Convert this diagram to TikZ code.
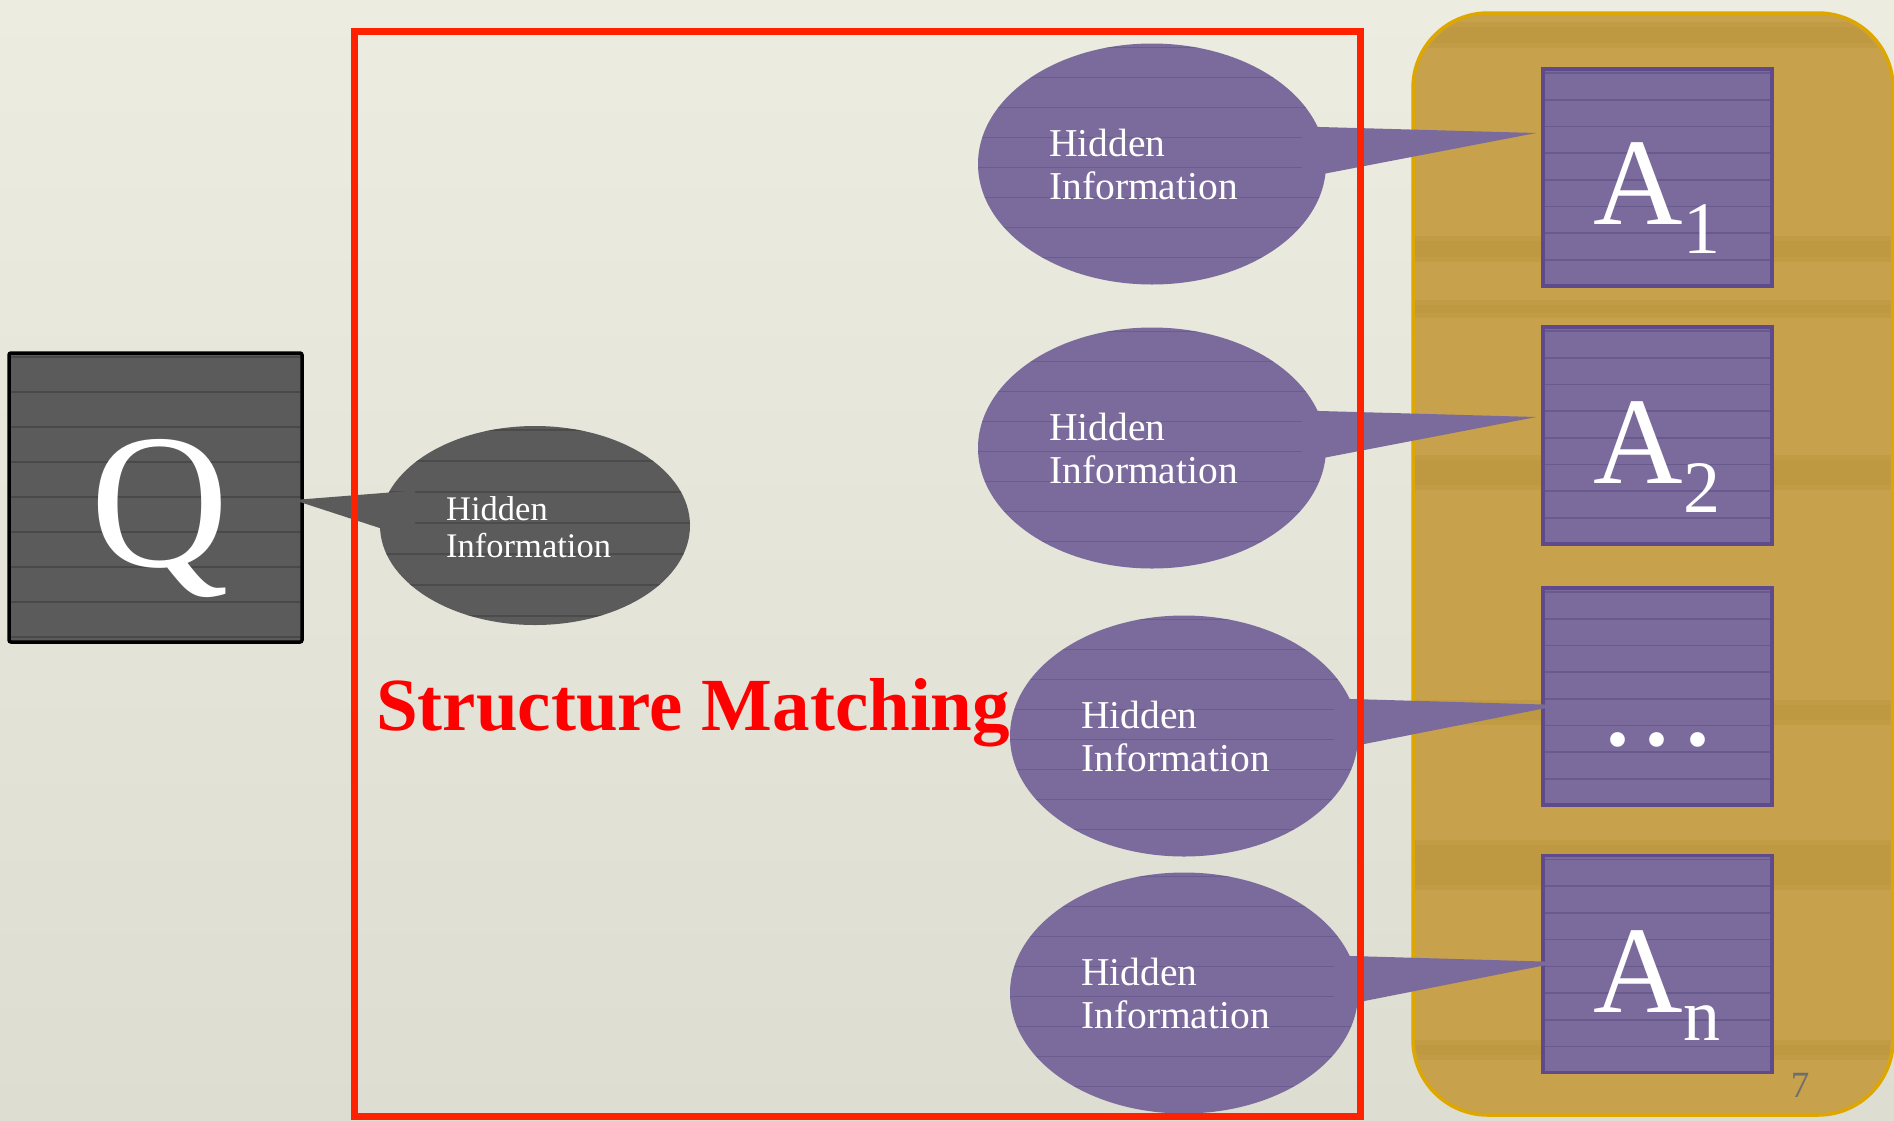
\documentclass[tikz,border=0pt]{standalone}
\usepackage{fontspec}
\setmainfont{Liberation Serif}
\usetikzlibrary{shapes.geometric,calc}
\definecolor{bgtop}{HTML}{ECECE0}
\definecolor{bgbot}{HTML}{DDDDD1}
\definecolor{redline}{HTML}{FF2200}
\definecolor{goldfill}{HTML}{C7A14B}
\definecolor{golddraw}{HTML}{DDA700}
\definecolor{goldband}{HTML}{A98424}
\definecolor{purfill}{HTML}{7B6B9D}
\definecolor{purdraw}{HTML}{5F4B8B}
\definecolor{purstripe}{HTML}{54467A}
\definecolor{grayfill}{HTML}{5B5B5B}
\definecolor{graystripe}{HTML}{393939}
\definecolor{pagenum}{HTML}{6E6E6E}
\begin{document}
\begin{tikzpicture}[x=1pt,y=-1pt,
  stripes/.style n args={3}{path picture={%
    \foreach \k in {0,...,#1}{%
      \draw[#3] ([yshift={-(\k*#2+4)*1pt}]path picture bounding box.north west) -- ([yshift={-(\k*#2+4)*1pt}]path picture bounding box.north east);}}},
  goldbox/.style={draw=golddraw, line width=3.5pt, fill=goldfill, rounded corners=75pt, minimum width=480pt, minimum height=1102pt, inner sep=0pt},
  abox/.style={draw=purdraw, line width=3.5pt, fill=purfill, minimum width=229pt, minimum height=217pt, inner sep=0pt, stripes={8}{26.7}{purstripe, line width=1.6pt, opacity=0.45}},
  qbox/.style={draw=black, line width=3.5pt, fill=grayfill, rounded corners=2pt, minimum width=293pt, minimum height=289pt, inner sep=0pt, stripes={8}{35}{graystripe, line width=2pt, opacity=0.5}},
  hid/.style={ellipse, fill=purfill, minimum width=348pt, minimum height=241pt, inner sep=0pt, stripes={8}{30}{purstripe, line width=1.6pt, opacity=0.4}},
  qhid/.style={ellipse, fill=grayfill, minimum width=310pt, minimum height=199pt, inner sep=0pt, stripes={7}{31}{graystripe, line width=1.8pt, opacity=0.45}},
  hidtext/.style={text=white, align=left, inner sep=0pt, anchor=west, font=\fontsize{39.5}{43}\selectfont},
  qhidtext/.style={text=white, align=left, inner sep=0pt, anchor=west, font=\fontsize{34.5}{37}\selectfont},
  bigtext/.style={text=white, inner sep=0pt, anchor=base west, font=\fontsize{124}{124}\selectfont},
  redframe/.style={draw=redline, line width=7pt, minimum width=1006pt, minimum height=1085pt, inner sep=0pt},
  titletext/.style={text=red, inner sep=0pt, anchor=base west, font=\fontsize{75}{80}\selectfont\bfseries}
]
\useasboundingbox (0,0) rectangle (1894,1120);
\fill[top color=bgtop, bottom color=bgbot] (0,0) rectangle (1894,1120);

% gold panel
\node[goldbox] (gold) at (1653,564) {};
\begin{scope}
  \clip[rounded corners=75pt] (1415,15) rectangle (1891,1113);
  \foreach \ya/\yb in {22/48, 236/262, 300/318, 455/490, 700/725, 840/890, 1040/1060}{
    \fill[goldband, opacity=0.15] (1415,\ya) rectangle (1891,\yb);
    \fill[goldband, opacity=0.1] (1415,\ya+5) rectangle (1891,\yb-5);
  }
\end{scope}

% answer boxes
\node[abox] (a1) at (1657.5,177.5) {};
\node[abox] (a2) at (1657.5,435.5) {};
\node[abox] (a3) at (1657.5,696.5) {};
\node[abox] (a4) at (1657.5,964) {};

% question box
\node[qbox] (q) at (155.5,497.5) {};

% hidden information ellipses
\node[qhid] (e0) at (535,525.5) {};
\node[hid] (e1) at (1152,164) {};
\node[hid] (e2) at (1152,448) {};
\node[hid] (e3) at (1184,736) {};
\node[hid] (e4) at (1184,993) {};

% callout tails
\coordinate (t0) at ($(q.east)+(-10,2.5)$);
\coordinate (t1) at ($(a1.west |- e1.center)+(-5,-31)$);
\coordinate (t2) at ($(a2.west |- e2.center)+(-5,-31)$);
\coordinate (t3) at ($(a3.west |- e3.center)+(20,-31)$);
\coordinate (t4) at ($(a4.west |- e4.center)+(20,-31)$);
\fill[grayfill] ($(e0.center)+(-120,-35)$) -- (t0) -- ($(e0.center)+(-120,14)$) -- cycle;
\foreach \i in {1,2,3,4}{
  \fill[purfill] ($(e\i.center)+(150,-37.5)$) -- (t\i) -- ($(e\i.center)+(150,14)$) -- cycle;
}

% texts in ellipses
\node[qhidtext] (e0t) at ($(e0.center)+(-89,2)$) {Hidden\\Information};
\node[hidtext] (e1t) at ($(e1.center)+(-103,0.5)$) {Hidden\\Information};
\node[hidtext] (e2t) at ($(e2.center)+(-103,0.5)$) {Hidden\\Information};
\node[hidtext] (e3t) at ($(e3.center)+(-103,0.5)$) {Hidden\\Information};
\node[hidtext] (e4t) at ($(e4.center)+(-103,0.5)$) {Hidden\\Information};

% box labels
\node[text=white, inner sep=0pt, anchor=base, font=\fontsize{192}{192}\selectfont] (qt) at ($(q.center)+(4,69)$) {Q};
\node[bigtext] (a1t) at ($(a1.center)+(-64,46.5)$) {A\raisebox{-29pt}{\fontsize{74}{74}\selectfont 1}};
\node[bigtext] (a2t) at ($(a2.center)+(-64,47.5)$) {A\raisebox{-29pt}{\fontsize{74}{74}\selectfont 2}};
\node[text=white, inner sep=0pt, anchor=base, font=\fontsize{124}{124}\selectfont] (a3t) at ($(a3.center)+(0,48.5)$) {.\kern9pt.\kern9pt.};
\node[bigtext] (a4t) at ($(a4.center)+(-64,48)$) {A\raisebox{-28pt}{\fontsize{74}{74}\selectfont n}};

% structure matching frame
\node[redframe] (match) at (857,573.5) {};
\node[titletext] (mt) at (376,730) {Structure Matching};

% page number
\node[text=pagenum, inner sep=0pt, anchor=base, font=\fontsize{37}{37}\selectfont] (pg) at (1800,1097) {7};
\end{tikzpicture}
\end{document}
